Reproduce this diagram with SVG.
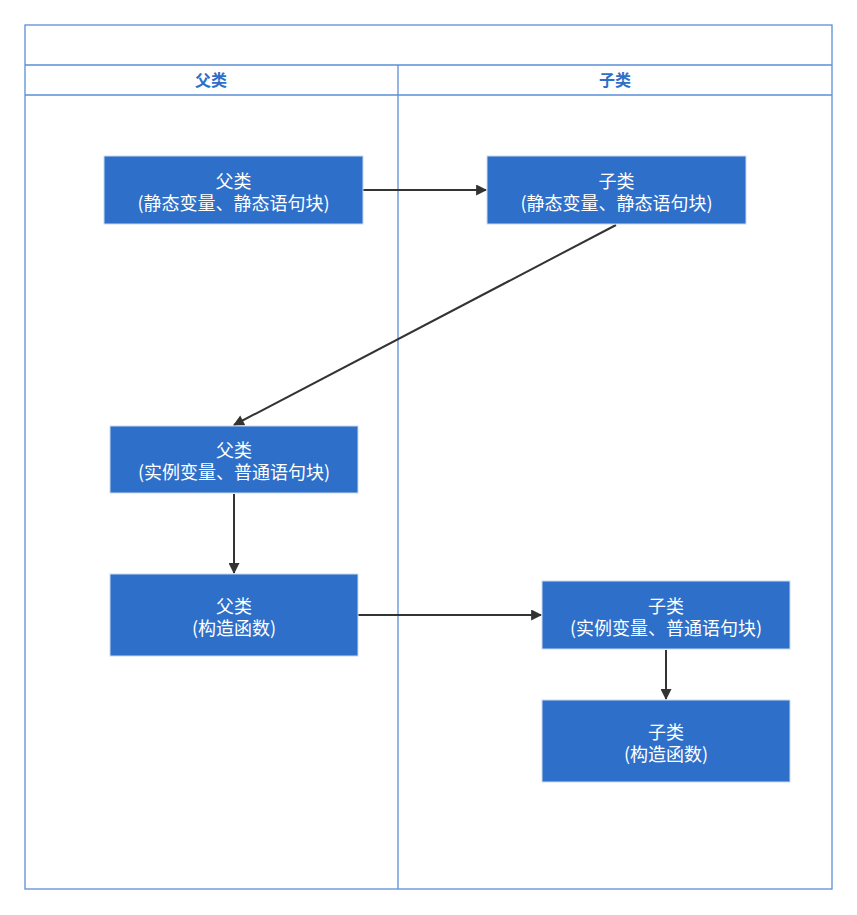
<svg xmlns="http://www.w3.org/2000/svg" width="857" height="915" viewBox="0 0 857 915">
<style>
.frame{fill:none;stroke:#5B8FD6;stroke-width:1.3}
.node rect{fill:#2E6FC9;stroke:#C9DAF2;stroke-width:1}
.node text{fill:#fff;font-family:"Noto Sans CJK SC","Microsoft YaHei",sans-serif;font-size:18px;text-anchor:middle}
.lane{fill:#2E6FC9;font-family:"Noto Sans CJK SC",sans-serif;font-size:16px;font-weight:bold;text-anchor:middle}
.edge{stroke:#333;stroke-width:2;fill:none;marker-end:url(#arr)}
</style>
<defs>
<marker id="arr" viewBox="0 0 10 10" refX="9" refY="5" markerWidth="12" markerHeight="11" markerUnits="userSpaceOnUse" orient="auto">
<path d="M0,0 L10,5 L0,10 z" fill="#333"/>
</marker>
</defs>
<rect width="857" height="915" fill="#fff"/>
<g id="pool">
<rect class="frame" x="25" y="25" width="807" height="864"/>
<line class="frame" x1="25" y1="65" x2="832" y2="65"/>
<line class="frame" x1="25" y1="95" x2="832" y2="95"/>
<line class="frame" x1="398" y1="65" x2="398" y2="889"/>
<text class="lane" x="211" y="86">父类</text>
<text class="lane" x="615" y="86">子类</text>
</g>
<g id="connectors">
<line class="edge" x1="363" y1="190" x2="486" y2="190"/>
<line class="edge" x1="616" y1="225" x2="234" y2="425"/>
<line class="edge" x1="234" y1="494" x2="234" y2="573"/>
<line class="edge" x1="358" y1="615" x2="541" y2="615"/>
<line class="edge" x1="666" y1="650" x2="666" y2="699"/>
</g>
<g id="n1" class="node"><rect x="104" y="156" width="259" height="68"/><text x="233.5" y="187.5">父类<tspan x="233.5" dy="22">(静态变量、静态语句块)</tspan></text></g>
<g id="n2" class="node"><rect x="487" y="156" width="259" height="68"/><text x="616.5" y="187.5">子类<tspan x="616.5" dy="22">(静态变量、静态语句块)</tspan></text></g>
<g id="n3" class="node"><rect x="110" y="426" width="248" height="67"/><text x="234" y="457">父类<tspan x="234" dy="22">(实例变量、普通语句块)</tspan></text></g>
<g id="n4" class="node"><rect x="110" y="574" width="248" height="82"/><text x="234" y="612.5">父类<tspan x="234" dy="22">(构造函数)</tspan></text></g>
<g id="n5" class="node"><rect x="542" y="581" width="248" height="68"/><text x="666" y="612.5">子类<tspan x="666" dy="22">(实例变量、普通语句块)</tspan></text></g>
<g id="n6" class="node"><rect x="542" y="700" width="248" height="82"/><text x="666" y="738.5">子类<tspan x="666" dy="22">(构造函数)</tspan></text></g>
</svg>
